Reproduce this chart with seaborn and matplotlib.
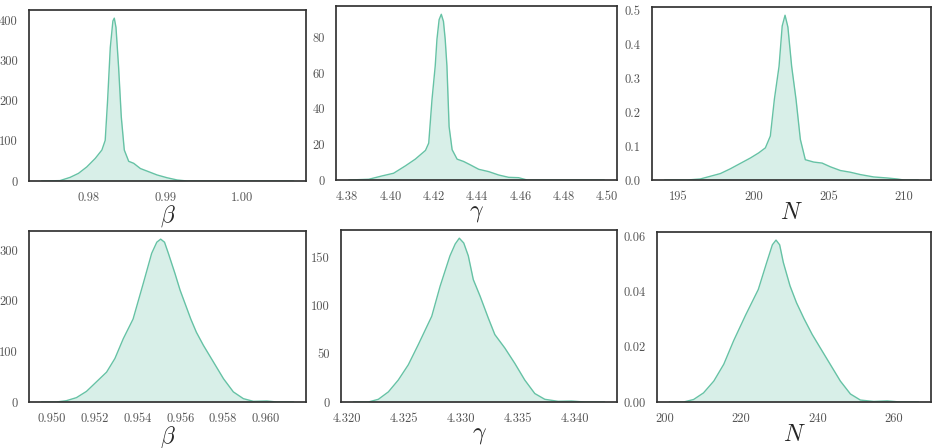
import matplotlib
matplotlib.use("Agg")
import matplotlib.pyplot as plt
import seaborn as sns

# Posterior densities
beta_top_x = [0.97391, 0.97630, 0.97761, 0.97870, 0.97978, 0.98087, 0.98174, 0.98217, 0.98248,
              0.98283, 0.98317, 0.98335, 0.98357, 0.98391, 0.98426, 0.98465, 0.98522, 0.98587,
              0.98674, 0.98783, 0.98891, 0.99022, 0.99152, 0.99283, 1.00661]
beta_top_y = [0, 1, 9, 19, 35, 56, 77, 101, 200, 332, 398, 405, 382, 283, 159, 77, 49, 44,
              31, 23, 15, 8, 2.5, 0, 0]

gamma_top_x = [4.3808, 4.3900, 4.3962, 4.4015, 4.4069, 4.4115, 4.4162, 4.4177, 4.4192, 4.4207,
               4.4215, 4.4225, 4.4235, 4.4245, 4.4253, 4.4261, 4.4271, 4.4285, 4.4308, 4.4338,
               4.4369, 4.4408, 4.4454, 4.4500, 4.4546, 4.4592, 4.4631, 4.4987]
gamma_top_y = [0, 0.4, 2.3, 3.8, 7.9, 11.7, 16.6, 20.7, 45, 64, 79, 90, 93, 89, 79, 64, 30, 17,
               11.7, 10.4, 8.5, 6, 4.7, 2.8, 1.5, 1.3, 0, 0]

n_top_x = [194.07, 195.56, 196.44, 197.11, 197.78, 198.44, 199.11, 199.78, 200.33, 200.78,
           201.11, 201.38, 201.69, 201.90, 202.09, 202.28, 202.53, 202.82, 203.11, 203.44,
           204.0, 204.56, 205.11, 205.78, 206.44, 207.11, 208.0, 208.89, 209.56, 210.0, 210.97]
n_top_y = [0, 0, 0.003, 0.011, 0.019, 0.033, 0.049, 0.065, 0.080, 0.095, 0.13, 0.239, 0.336,
           0.455, 0.487, 0.452, 0.336, 0.239, 0.12, 0.060, 0.053, 0.050, 0.039, 0.028, 0.023,
           0.016, 0.009, 0.006, 0.003, 0, 0]

beta_bot_x = [0.94951, 0.95020, 0.95067, 0.95114, 0.95161, 0.95208, 0.95255, 0.95294, 0.95333,
              0.95379, 0.95427, 0.95466, 0.95490, 0.95508, 0.95526, 0.95544, 0.95575, 0.95599,
              0.95649, 0.95675, 0.95708, 0.95755, 0.95802, 0.95848, 0.95895, 0.95942, 0.96005,
              0.96052, 0.96129]
beta_bot_y = [0, 0, 2.6, 8.6, 21, 40, 59, 86, 125, 164, 235, 294, 316, 322, 316, 294, 254, 221,
              164, 138, 112, 79, 46, 20, 6.6, 1.3, 2, 0, 0]

gamma_bot_x = [4.32057, 4.32187, 4.32275, 4.32363, 4.32450, 4.32538, 4.32626, 4.32744, 4.32817,
               4.32904, 4.32950, 4.32986, 4.33025, 4.33065, 4.33109, 4.33168, 4.33241, 4.33298,
               4.33386, 4.33474, 4.33561, 4.33649, 4.33737, 4.33854, 4.33971, 4.34088, 4.34261]
gamma_bot_y = [0, 0, 2.8, 10.5, 22.8, 38.6, 59.6, 89, 120, 151.7, 164, 170, 165, 151.7, 127,
               110, 87, 70, 56, 40, 22.8, 8.8, 2.8, 0.7, 1, 0, 0]

n_bot_x = [201.3, 205.0, 207.6, 210.2, 212.9, 215.5, 218.1, 221.2, 224.52, 226.72, 228.2,
           229.15, 230.1, 231.06, 232.81, 234.5, 236.47, 238.6, 240.9, 243.3, 245.96, 248.6,
           251.2, 254.7, 258.2, 261.6, 266.4]
n_bot_y = [0, 0, 0.0009, 0.0033, 0.0076, 0.0137, 0.0223, 0.0315, 0.0408, 0.0506, 0.0570,
           0.0587, 0.0570, 0.0506, 0.0421, 0.036, 0.0302, 0.0245, 0.0192, 0.0137, 0.0076,
           0.0029, 0.0007, 0.0002, 0.0004, 0, 0]

# tick values and labels
beta_top_xt = [0.98, 0.99, 1.00]
beta_top_xl = ["0.98", "0.99", "1.00"]
beta_top_yt = [0, 100, 200, 300, 400]
gamma_top_xt = [4.38, 4.40, 4.42, 4.44, 4.46, 4.48, 4.50]
gamma_top_xl = ["4.38", "4.40", "4.42", "4.44", "4.46", "4.48", "4.50"]
gamma_top_yt = [0, 20, 40, 60, 80]
n_top_xt = [195, 200, 205, 210]
n_top_xl = ["195", "200", "205", "210"]
n_top_yt = [0.0, 0.1, 0.2, 0.3, 0.4, 0.5]
n_top_yl = ["0.0", "0.1", "0.2", "0.3", "0.4", "0.5"]
beta_bot_xt = [0.950, 0.952, 0.954, 0.956, 0.958, 0.960]
beta_bot_xl = ["0.950", "0.952", "0.954", "0.956", "0.958", "0.960"]
beta_bot_yt = [0, 100, 200, 300]
gamma_bot_xt = [4.320, 4.325, 4.330, 4.335, 4.340]
gamma_bot_xl = ["4.320", "4.325", "4.330", "4.335", "4.340"]
gamma_bot_yt = [0, 50, 100, 150]
n_bot_xt = [200, 220, 240, 260]
n_bot_xl = ["200", "220", "240", "260"]
n_bot_yt = [0.00, 0.02, 0.04, 0.06]
n_bot_yl = ["0.00", "0.02", "0.04", "0.06"]

labels = [r"$\beta$", r"$\gamma$", r"$N$"] * 2

sns.set_theme(style="white")
plt.rcParams["font.family"] = "serif"
plt.rcParams["font.serif"] = ["cmr10", "DejaVu Serif"]
plt.rcParams["mathtext.fontset"] = "cm"
plt.rcParams["axes.formatter.use_mathtext"] = True

W, H = 937, 448
fig = plt.figure(figsize=(W / 100, H / 100), dpi=100)

# axes boxes in pixels: left, top, right, bottom
boxes = [(29, 10, 306, 181), (336, 6, 617, 180), (652, 7, 931, 180),
         (29, 231, 306, 402), (341, 230, 617, 402), (657, 232, 931, 402)]

panels = [
    (beta_top_x, beta_top_y, beta_top_xt, beta_top_xl, beta_top_yt, [str(v) for v in beta_top_yt]),
    (gamma_top_x, gamma_top_y, gamma_top_xt, gamma_top_xl, gamma_top_yt, [str(v) for v in gamma_top_yt]),
    (n_top_x, n_top_y, n_top_xt, n_top_xl, n_top_yt, n_top_yl),
    (beta_bot_x, beta_bot_y, beta_bot_xt, beta_bot_xl, beta_bot_yt, [str(v) for v in beta_bot_yt]),
    (gamma_bot_x, gamma_bot_y, gamma_bot_xt, gamma_bot_xl, gamma_bot_yt, [str(v) for v in gamma_bot_yt]),
    (n_bot_x, n_bot_y, n_bot_xt, n_bot_xl, n_bot_yt, n_bot_yl),
]

color = sns.color_palette("Set2")[0]

for (l, t, r, b), (x, y, xt, xl, yt, yl), lab in zip(boxes, panels, labels):
    ax = fig.add_axes([l / W, 1 - b / H, (r - l) / W, (b - t) / H])
    sns.lineplot(x=x, y=y, color=color, lw=1, ax=ax)
    ax.fill_between(x, y, color=color, alpha=0.25, lw=0)
    ax.set_ylim(bottom=0)
    ax.set_xticks(xt)
    ax.set_xticklabels(xl)
    ax.set_yticks(yt)
    ax.set_yticklabels(yl)
    ax.tick_params(labelsize=9, colors="#555555", pad=2)
    ax.set_xlabel(lab, fontsize=17, labelpad=-1)
    for s in ax.spines.values():
        s.set_color("#333333")

fig.savefig("out.png", dpi=100)
